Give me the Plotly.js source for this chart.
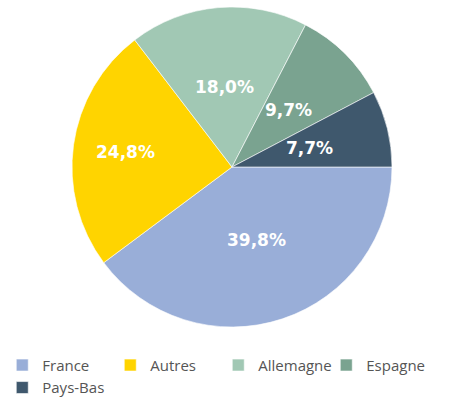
<!DOCTYPE html>
<html><head><meta charset="utf-8">
<script src="https://cdn.plot.ly/plotly-3.0.1.min.js"></script>
<style>html,body{margin:0;padding:0;background:#fff}#chart{width:453px;height:400px}</style>
</head><body><div id="chart"></div>
<script>
const labels = ['France', 'Autres', 'Allemagne', 'Espagne', 'Pays-Bas'];
const values = [39.8, 24.8, 18.0, 9.7, 7.7];
const colors = ['#99AED8', '#FFD400', '#A1C8B4', '#7AA390', '#3F586D'];

// pie geometry (pixels) and label radial placement (fraction of radius)
const W = 453, H = 400;
const CX = 232, CY = 167, R = 160;
const labelRadius = [0.48, 0.67, 0.5, 0.5, 0.5];

const total = values.reduce((a, b) => a + b, 0);
const annotations = [];
let acc = 0;
values.forEach((v, i) => {
  const mid = (acc + v / 2) / total * 2 * Math.PI; // clockwise from 3 o'clock
  acc += v;
  const r = R * labelRadius[i];
  const px = CX + r * Math.cos(mid);
  const py = CY + r * Math.sin(mid);
  annotations.push({
    xref: 'paper', yref: 'paper', x: px / W, y: 1 - py / H,
    xanchor: 'center', yanchor: 'middle', showarrow: false,
    text: (v / total * 100).toFixed(1).replace('.', ',') + '%',
    font: {family: 'DejaVu Sans', size: 17, color: '#ffffff', weight: 'bold'}
  });
});

const trace = {
  type: 'pie',
  labels: labels,
  values: values,
  sort: false,
  direction: 'clockwise',
  rotation: 90,
  marker: {colors: colors, line: {color: 'rgba(255,255,255,0.6)', width: 1}},
  textinfo: 'none',
  hoverinfo: 'label+percent',
  domain: {x: [(CX - R) / W, (CX + R) / W], y: [1 - (CY + R) / H, 1 - (CY - R) / H]}
};

const layout = {
  width: W, height: H,
  margin: {l: 0, r: 0, t: 0, b: 0, autoexpand: false},
  separators: ', ',
  paper_bgcolor: '#ffffff',
  showlegend: true,
  annotations: annotations,
  legend: {
    orientation: 'h', x: 0.005, xanchor: 'left', y: 0.128, yanchor: 'top',
    font: {family: 'Open Sans', size: 15, color: '#555555'},
    itemwidth: 30, traceorder: 'normal',
    entrywidth: 63, entrywidthmode: 'pixels', tracegroupgap: 0
  }
};
Plotly.newPlot('chart', [trace], layout, {displayModeBar: false, staticPlot: true});
</script></body></html>
